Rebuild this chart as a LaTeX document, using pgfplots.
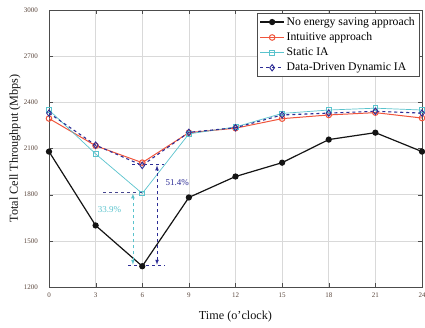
\documentclass[border=0pt]{standalone}
\usepackage{fontspec}
\setmainfont{Liberation Serif}
\usepackage{pgfplots}
\pgfplotsset{compat=1.18}
\definecolor{cblack}{RGB}{20,20,20}
\definecolor{cred}{RGB}{240,85,60}
\definecolor{ccyan}{RGB}{90,195,205}
\definecolor{cblue}{RGB}{45,45,150}
\definecolor{ctick}{RGB}{90,70,60}
\begin{document}
\begin{tikzpicture}
\useasboundingbox (-49pt,-40pt) rectangle (376pt,287pt);
\begin{axis}[
  at={(0pt,0pt)}, anchor=south west,
  scale only axis,
  width=373pt, height=277pt,
  xmin=0, xmax=24, ymin=1200, ymax=3000,
  xtick={0,3,...,24}, ytick={1200,1500,...,3000},
  grid=major, major grid style={gray!30, line width=0.6pt},
  tick align=inside, tick style={gray!60!black},
  axis line style={gray!60!black, line width=0.6pt},
  /pgf/number format/assume math mode=true,
  /pgf/number format/1000 sep={},
  tick label style={font=\fontsize{7}{8}\selectfont, text=ctick},
  yticklabel style={xshift=-7.5pt},
  xticklabel style={yshift=-2.5pt},
  xlabel={Time (o'clock)}, ylabel={Total Cell Throughput (Mbps)},
  label style={font=\fontsize{12.2}{14}\selectfont, text=gray!15!black},
  xlabel style={at={(axis description cs:0.5,-0.108)}, anchor=center},
  ylabel style={at={(axis description cs:-0.091,0.5)}, anchor=center},
  legend style={at={(rel axis cs:0.992,0.989)}, anchor=north east, font=\fontsize{11.7}{13}\selectfont, draw=gray!60!black, inner sep=2pt, row sep=1.8pt, cells={anchor=west}},
  legend cell align=left,
  legend image code/.code={\draw[mark repeat=2,mark phase=2] plot coordinates {(0cm,0cm) (0.42cm,0cm) (0.84cm,0cm)};},
]
\addplot[cblack, line width=1.2pt, mark=*, mark size=2.5pt] coordinates {
(0,2080) (3,1600) (6,1335) (9,1782) (12,1918) (15,2008) (18,2158) (21,2203) (24,2080)};
\addlegendentry{No energy saving approach}
\addplot[cred, line width=1pt, mark=o, mark size=2.8pt, mark options={line width=1pt}] coordinates {
(0,2295) (3,2118) (6,2008) (9,2203) (12,2232) (15,2294) (18,2318) (21,2333) (24,2298)};
\addlegendentry{Intuitive approach}
\addplot[ccyan, line width=0.7pt, mark=square, mark size=2.4pt, mark options={line width=0.8pt}] coordinates {
(0,2350) (3,2065) (6,1808) (9,2195) (12,2240) (15,2328) (18,2350) (21,2362) (24,2350)};
\addlegendentry{Static IA}
\addplot[cblue, line width=1.1pt, dashed, mark=diamond, mark size=3.2pt, mark options={solid, line width=0.9pt}] coordinates {
(0,2330) (3,2122) (6,1990) (9,2205) (12,2235) (15,2318) (18,2330) (21,2342) (24,2330)};
\addlegendentry{Data-Driven Dynamic IA}
% annotations
\draw[cblue, dashed, line width=0.7pt] (axis cs:5.35,1995) -- (axis cs:7.4,1995);
\draw[cblue!70!gray, dashed, line width=0.7pt] (axis cs:3.48,1812) -- (axis cs:6,1812);
\draw[cblue, dashed, line width=0.7pt] (axis cs:5.1,1340) -- (axis cs:7.45,1340);
\draw[cblue, dashed, line width=0.7pt, <->, >=latex] (axis cs:6.95,1345) -- (axis cs:6.95,1990);
\draw[ccyan, dashed, line width=0.7pt, <->, >=latex] (axis cs:5.4,1345) -- (axis cs:5.4,1808);
\node[text=ccyan, font=\fontsize{9}{10}\selectfont] at (axis cs:3.9,1700) {33.9\%};
\node[text=cblue, font=\fontsize{9}{10}\selectfont] at (axis cs:8.25,1878) {51.4\%};
\end{axis}
\end{tikzpicture}
\end{document}
